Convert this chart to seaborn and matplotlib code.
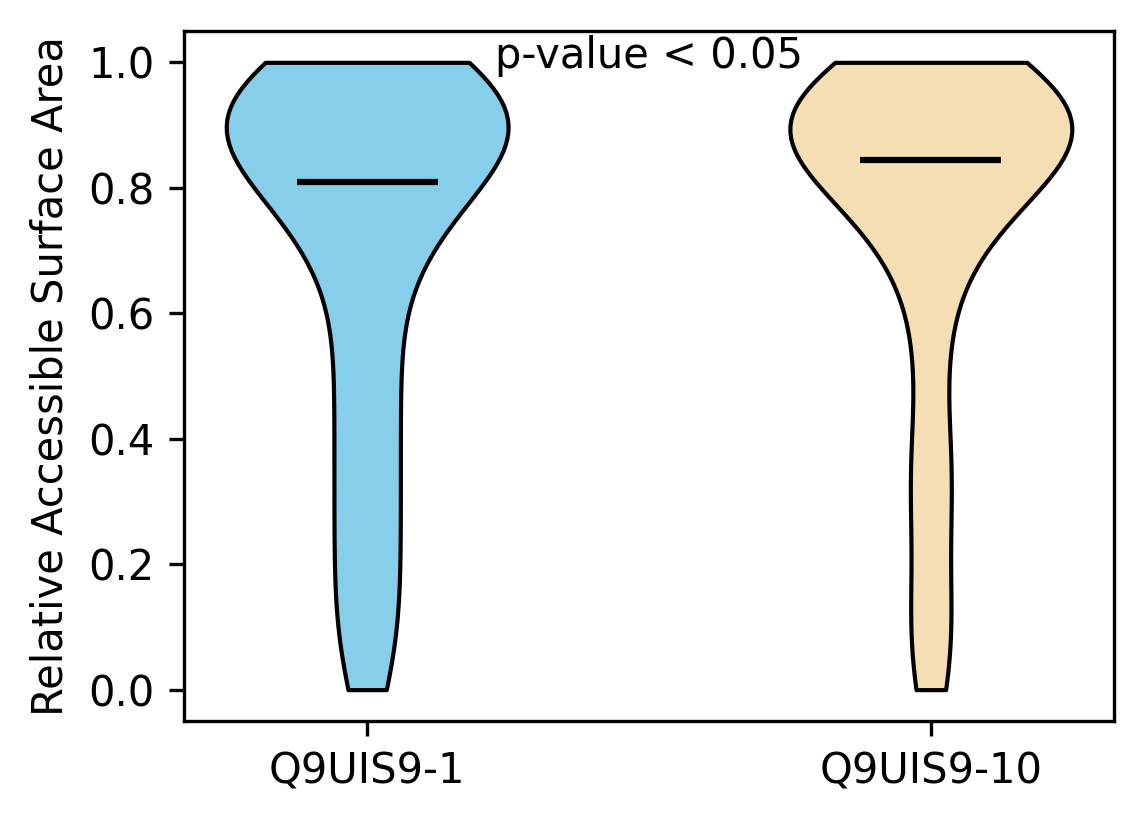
import matplotlib
matplotlib.use("Agg")
import matplotlib.pyplot as plt
import seaborn as sns
import pandas as pd
import numpy as np

# isoform names and colours
isoforms = ["Q9UIS9-1", "Q9UIS9-10"]
colors = ["#87CEEB", "#F5DEB3"]

# relative accessible surface area per residue (estimated from the figure)
rsa_iso1 = [
    0.00, 0.03, 0.07, 0.10, 0.14, 0.17, 0.21, 0.24, 0.28, 0.31, 0.35, 0.38,
    0.42, 0.45, 0.49, 0.52, 0.56, 0.59,
    0.63, 0.67, 0.70, 0.72, 0.74, 0.76, 0.77, 0.78, 0.79,
    0.80, 0.81, 0.81, 0.81, 0.84, 0.86, 0.87, 0.88, 0.88, 0.89, 0.89, 0.90,
    0.90, 0.90, 0.91, 0.91, 0.92, 0.92, 0.92, 0.93, 0.93, 0.94, 0.94, 0.95,
    0.95, 0.96, 0.96, 0.97, 0.97, 0.98, 0.99, 1.00, 1.00,
]
rsa_iso10 = [
    0.00, 0.01, 0.08, 0.11, 0.14, 0.21, 0.27, 0.33, 0.35, 0.37, 0.45, 0.52,
    0.58,
    0.63, 0.67, 0.70, 0.72, 0.74, 0.76, 0.78, 0.79,
    0.80, 0.81, 0.81, 0.82, 0.82, 0.83, 0.84, 0.84, 0.84, 0.85, 0.87, 0.88,
    0.88, 0.89, 0.89, 0.90, 0.90, 0.90, 0.91, 0.91, 0.91, 0.92, 0.92, 0.92,
    0.93, 0.93, 0.93, 0.94, 0.94, 0.95, 0.95, 0.96, 0.96, 0.97, 0.97, 0.98,
    0.99, 1.00, 1.00,
]
p_text = "p-value < 0.05"

df = pd.DataFrame({
    "isoform": [isoforms[0]] * len(rsa_iso1) + [isoforms[1]] * len(rsa_iso10),
    "rsa": rsa_iso1 + rsa_iso10,
})

fig, ax = plt.subplots(figsize=(1144 / 300, 824 / 300), dpi=300)
fig.subplots_adjust(left=0.1608, right=0.9738, bottom=0.125, top=0.9624)

sns.violinplot(
    data=df, x="isoform", y="rsa", hue="isoform", palette=colors,
    order=isoforms, hue_order=isoforms, cut=0, inner=None, width=0.5,
    density_norm="width", bw_adjust=0.8, linecolor="black", linewidth=1,
    saturation=1, legend=False, ax=ax,
)
for c in ax.collections:
    c.set_alpha(1)

# median lines
for i, vals in enumerate([rsa_iso1, rsa_iso10]):
    ax.hlines(np.median(vals), i - 0.125, i + 0.125, colors="black", linewidth=1.5)

ax.text(0.5, 1.01, p_text, ha="center", va="center", fontsize=10)

ax.set_xlim(-0.325, 1.325)
ax.set_ylim(-0.05, 1.05)
ax.set_xlabel("")
ax.set_ylabel("Relative Accessible Surface Area")

fig.savefig("out.png", dpi=300)
